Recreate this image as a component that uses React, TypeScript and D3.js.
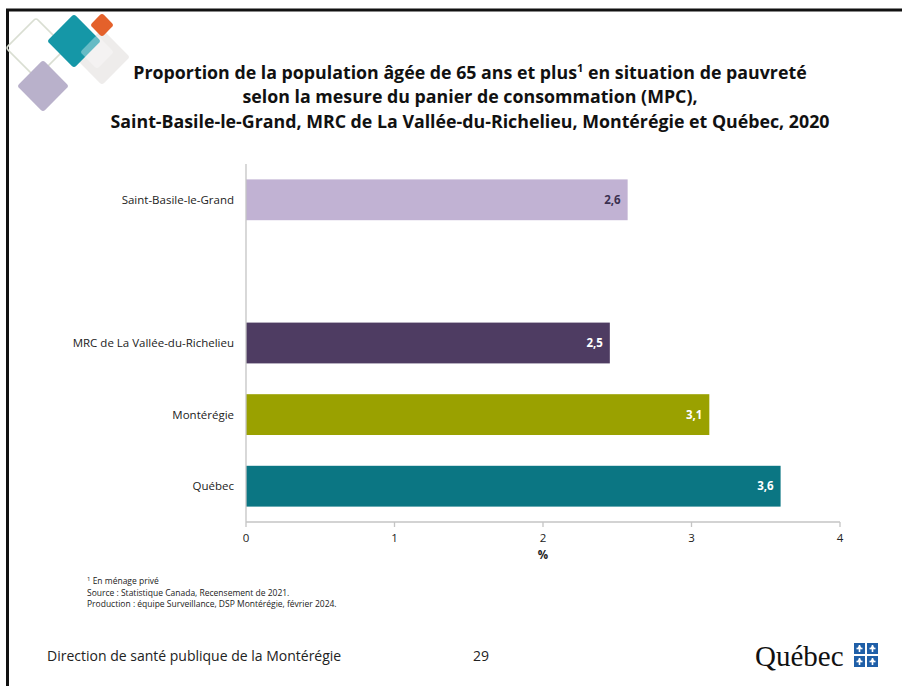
import React from 'react';
import * as d3 from 'd3';

const categories = ['Saint-Basile-le-Grand', 'MRC de La Vallée-du-Richelieu', 'Montérégie', 'Québec'];
const values = [2.57, 2.45, 3.12, 3.6];
const valueLabels = ['2,6', '2,5', '3,1', '3,6'];
const barColors = ['#c1b2d3', '#4e3c62', '#9aa100', '#0b7683'];
const labelColors = ['#3b3050', '#ffffff', '#ffffff', '#ffffff'];
const xTicks = [0, 1, 2, 3, 4];

const titleLines = [
  'selon la mesure du panier de consommation (MPC),',
  'Saint-Basile-le-Grand, MRC de La Vallée-du-Richelieu, Montérégie et Québec, 2020',
];
const footnotes = [
  'Source : Statistique Canada, Recensement de 2021.',
  'Production : équipe Surveillance, DSP Montérégie, février 2024.',
];

const FONT = "'Open Sans', 'Noto Sans', sans-serif";

const W = 902;
const H = 686;
const margin = { left: 246, right: 62, top: 164, bottom: 164 };

// gap slot between the municipality and the regions
const bandDomain = [categories[0], '__gap', ...categories.slice(1)];

const Diamond: React.FC<{ cx: number; cy: number; r: number; fill: string; stroke?: string; opacity?: number }> = ({ cx, cy, r, fill, stroke, opacity = 1 }) => {
  const s = r * Math.SQRT2;
  return (
    <rect
      x={cx - s / 2}
      y={cy - s / 2}
      width={s}
      height={s}
      rx={3}
      fill={fill}
      stroke={stroke}
      strokeWidth={stroke ? 1.5 : 0}
      opacity={opacity}
      transform={`rotate(45 ${cx} ${cy})`}
    />
  );
};

const Fleur: React.FC<{ x: number; y: number; s: number }> = ({ x, y, s }) => (
  <g>
    <rect x={x} y={y} width={s} height={s} fill="#1f5fa8" />
    <rect x={x + s / 2 - 0.8} y={y + 2} width={1.6} height={s - 4} fill="#fff" />
    <rect x={x + 2.5} y={y + s / 2 - 0.8} width={s - 5} height={1.6} fill="#fff" />
    <circle cx={x + s / 2} cy={y + s / 2 - 1} r={1.6} fill="#fff" />
  </g>
);

const App: React.FC = () => {
  const x = d3.scaleLinear().domain([0, 4]).range([margin.left, W - margin.right]);
  const y = d3.scaleBand<string>().domain(bandDomain).range([margin.top, 522]).paddingInner(0.43).paddingOuter(0.215);
  const x0 = x(0);
  const axisY = 522;

  return (
    <div style={{ position: 'absolute', left: 0, top: 0 }}>
      <svg width={W} height={H} style={{ display: 'block', background: '#fff', fontFamily: FONT }}>
        {/* slide frame */}
        <line x1={7.5} y1={9} x2={7.5} y2={H} stroke="#111" strokeWidth={3} />
        <line x1={6} y1={10} x2={W} y2={10} stroke="#111" strokeWidth={3} />

        {/* decorative diamonds */}
        <Diamond cx={36} cy={48} r={30} fill="none" stroke="#d9ded2" />
        <Diamond cx={43} cy={86} r={26} fill="#b9b1cb" />
        <Diamond cx={102} cy={57} r={28} fill="#eeeceb" />
        <Diamond cx={74} cy={41} r={27} fill="#1597a7" />
        <Diamond cx={102} cy={25} r={12} fill="#e4612b" />
        <Diamond cx={97} cy={52} r={17} fill="#ffffff" opacity={0.35} />

        {/* title */}
        <text x={470} y={79} textAnchor="middle" fontSize={17.8} fontWeight={700} fill="#111">
          Proportion de la population âgée de 65 ans et plus
          <tspan fontSize={11} dy={-7}>1</tspan>
          <tspan dy={7}> en situation de pauvreté</tspan>
        </text>
        {titleLines.map((t, i) => (
          <text key={t} x={470} y={103 + i * 25} textAnchor="middle" fontSize={17.8} fontWeight={700} fill="#111">
            {t}
          </text>
        ))}

        {/* bars */}
        {categories.map((c, i) => {
          const by = y(c) as number;
          const bh = y.bandwidth();
          return (
            <g key={c}>
              <rect x={x0} y={by} width={x(values[i]) - x0} height={bh} fill={barColors[i]} />
              <text x={x(values[i]) - 7} y={by + bh / 2} dy="0.35em" textAnchor="end" fontSize={11.5} fontWeight={700} fill={labelColors[i]}>
                {valueLabels[i]}
              </text>
              <text x={234} y={by + bh / 2} dy="0.35em" textAnchor="end" fontSize={11.5} fill="#222">
                {c}
              </text>
            </g>
          );
        })}

        {/* axes */}
        <line x1={x0} y1={margin.top} x2={x0} y2={axisY} stroke="#c4c4c4" strokeWidth={1.3} />
        <line x1={x0} y1={axisY} x2={x(4)} y2={axisY} stroke="#c4c4c4" strokeWidth={1.3} />
        {xTicks.map((t) => (
          <g key={t}>
            <line x1={x(t)} y1={axisY} x2={x(t)} y2={axisY + 5} stroke="#c4c4c4" strokeWidth={1.3} />
            <text x={x(t)} y={axisY + 20} textAnchor="middle" fontSize={11.5} fill="#222">
              {t}
            </text>
          </g>
        ))}
        <text x={x(2)} y={559} textAnchor="middle" fontSize={11.5} fontWeight={700} fill="#222">%</text>

        {/* footnotes */}
        <text x={87} y={584} fontSize={8.5} fill="#222">
          <tspan fontSize={6} dy={-3}>1</tspan>
          <tspan dy={3}> En ménage privé</tspan>
        </text>
        {footnotes.map((t, i) => (
          <text key={t} x={87} y={596 + i * 11} fontSize={8.5} fill="#222">{t}</text>
        ))}

        {/* footer */}
        <text x={47} y={661} fontSize={14} fill="#222">Direction de santé publique de la Montérégie</text>
        <text x={473} y={661} fontSize={14} fill="#222">29</text>
        <text x={755} y={666} fontFamily="'Liberation Serif', 'DejaVu Serif', serif" fontSize={29} fill="#111">Québec</text>
        <Fleur x={854} y={643} s={11} />
        <Fleur x={867} y={643} s={11} />
        <Fleur x={854} y={656} s={11} />
        <Fleur x={867} y={656} s={11} />
      </svg>
    </div>
  );
};

export default App;
